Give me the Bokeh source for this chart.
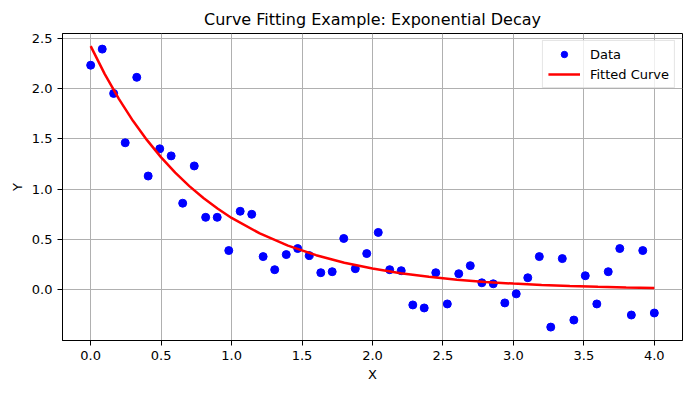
from bokeh.plotting import figure
from bokeh.models import Range1d, FixedTicker, NumeralTickFormatter, Legend, LegendItem
from bokeh.embed import file_html
from bokeh.resources import INLINE

# Data points
x_data = [0.000, 0.082, 0.163, 0.245, 0.327, 0.408, 0.490, 0.571, 0.653, 0.735,
          0.816, 0.898, 0.980, 1.061, 1.143, 1.224, 1.306, 1.388, 1.469, 1.551,
          1.633, 1.714, 1.796, 1.878, 1.959, 2.041, 2.122, 2.204, 2.286, 2.367,
          2.449, 2.531, 2.612, 2.694, 2.776, 2.857, 2.939, 3.020, 3.102, 3.184,
          3.265, 3.347, 3.429, 3.510, 3.592, 3.673, 3.755, 3.837, 3.918, 4.000]
y_data = [2.23, 2.39, 1.95, 1.46, 2.11, 1.13, 1.40, 1.33, 0.86, 1.23,
          0.72, 0.72, 0.39, 0.78, 0.75, 0.33, 0.20, 0.35, 0.41, 0.34,
          0.17, 0.18, 0.51, 0.21, 0.36, 0.57, 0.20, 0.19, -0.15, -0.18,
          0.17, -0.14, 0.16, 0.24, 0.07, 0.06, -0.13, -0.04, 0.12, 0.33,
          -0.37, 0.31, -0.30, 0.14, -0.14, 0.18, 0.41, -0.25, 0.39, -0.23]

# Fitted curve samples
x_fit = [0.0, 0.1, 0.2, 0.3, 0.4, 0.5, 0.6, 0.7, 0.8, 0.9, 1.0, 1.2, 1.4, 1.6,
         1.8, 2.0, 2.2, 2.4, 2.6, 2.8, 3.0, 3.2, 3.4, 3.6, 3.8, 4.0]
y_fit = [2.420, 2.142, 1.896, 1.678, 1.486, 1.315, 1.164, 1.030, 0.912, 0.807,
         0.714, 0.560, 0.439, 0.344, 0.269, 0.211, 0.165, 0.129, 0.101, 0.079,
         0.062, 0.049, 0.038, 0.030, 0.023, 0.018]

x_ticks = [0.0, 0.5, 1.0, 1.5, 2.0, 2.5, 3.0, 3.5, 4.0]
y_ticks = [0.0, 0.5, 1.0, 1.5, 2.0, 2.5]

FONT = "DejaVu Sans"

p = figure(width=691, height=393, output_backend="svg", toolbar_location=None,
           x_range=Range1d(-0.2, 4.2), y_range=Range1d(-0.503, 2.545),
           title="Curve Fitting Example: Exponential Decay",
           min_border_left=62, min_border_right=9, min_border_top=33, min_border_bottom=53)

p.title.align = "center"
p.title.text_font = FONT
p.title.text_font_size = "16px"
p.title.text_font_style = "normal"
p.title.text_color = "black"

p.outline_line_color = "black"
p.outline_line_width = 1
p.background_fill_color = "white"
p.border_fill_color = "white"

for ax, ticks, label in ((p.xaxis[0], x_ticks, "X"), (p.yaxis[0], y_ticks, "Y")):
    ax.ticker = FixedTicker(ticks=ticks)
    ax.formatter = NumeralTickFormatter(format="0.0")
    ax.axis_label = label
    ax.axis_label_text_font = FONT
    ax.axis_label_text_font_size = "13px"
    ax.axis_label_text_font_style = "normal"
    ax.axis_label_text_color = "black"
    ax.major_label_text_font = FONT
    ax.major_label_text_font_size = "13px"
    ax.major_label_text_color = "black"
    ax.major_tick_in = 0
    ax.major_tick_out = 5
    ax.major_tick_line_color = "black"
    ax.minor_tick_line_color = None
    ax.axis_line_color = "black"
    ax.axis_label_standoff = 4

p.xgrid.grid_line_color = "#b0b0b0"
p.ygrid.grid_line_color = "#b0b0b0"
p.xgrid.grid_line_width = 1
p.ygrid.grid_line_width = 1

sc = p.scatter(x_data, y_data, size=8, color="blue")
ln = p.line(x_fit, y_fit, line_color="red", line_width=2.5)

legend = Legend(items=[LegendItem(label="Data", renderers=[sc]),
                       LegendItem(label="Fitted Curve", renderers=[ln])],
                location="top_right")
legend.label_text_font = FONT
legend.label_text_font_size = "13px"
legend.label_text_color = "black"
legend.border_line_color = "#cccccc"
legend.background_fill_alpha = 0.8
legend.glyph_width = 32
legend.glyph_height = 16
legend.label_standoff = 10
legend.spacing = 4
legend.padding = 5
legend.margin = 7
p.add_layout(legend)

open("out.html", "w").write(file_html(p, INLINE))
